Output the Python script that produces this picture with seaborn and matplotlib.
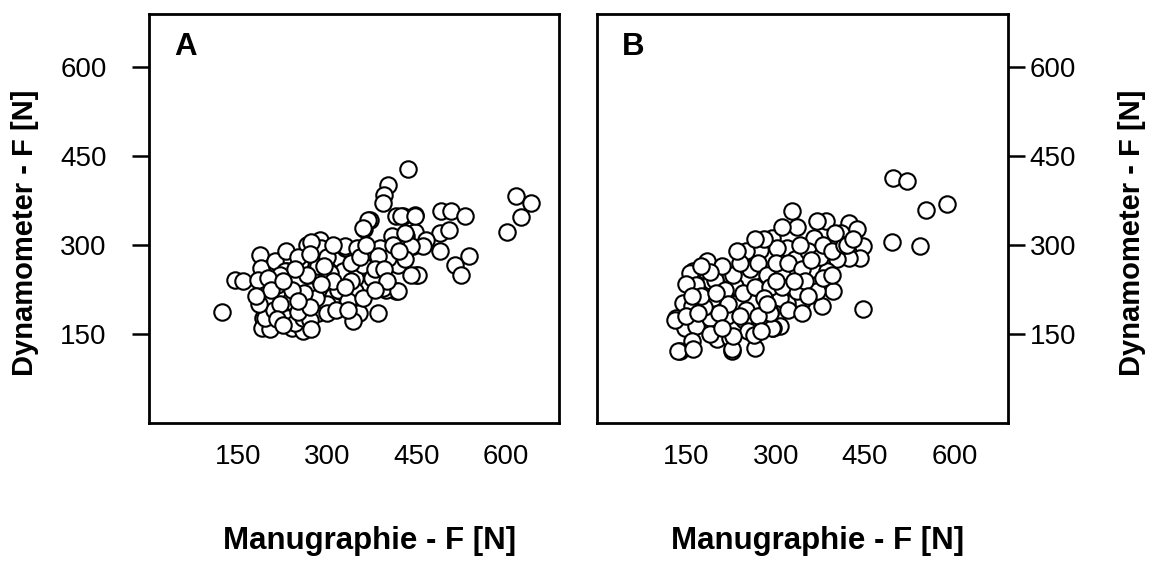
import numpy as np
import pandas as pd
import matplotlib
matplotlib.use("Agg")
import matplotlib.pyplot as plt
import seaborn as sns

# ---------------- data ----------------
a_x = [123, 145, 158, 187, 188, 184, 192, 195, 190, 204, 215, 226, 215, 232, 237, 232, 240, 259, 251, 254,
       254, 268, 287, 290, 287, 273, 285, 307, 321, 318, 329, 310,
       435, 402, 396, 393, 427, 448, 491, 508, 532, 371, 361, 489, 505, 617, 642, 625, 603, 489,
       539, 514, 525, 449, 444, 408, 385, 405, 419, 416, 399, 385, 354, 343, 332, 326, 357, 346,
       321, 447, 466, 433, 416, 452, 461,
       198, 195, 246, 259, 271, 271, 251, 212, 229, 265, 251,
       368, 360, 424, 447, 441, 388, 273, 329, 349, 360, 304, 285, 318, 346, 394, 419, 441, 402,
       430, 385, 273,
       300, 310, 340, 335, 360, 375, 380, 300, 280, 260, 240, 220, 200, 205, 230, 250, 270, 295,
       310, 340, 355, 365, 395, 410, 420, 430, 400, 380, 330, 290, 265, 245, 225, 210, 220, 185,
       180, 300, 315, 335, 270, 250, 215, 225]
a_y = [188, 242, 239, 283, 262, 242, 177, 166, 160, 158, 264, 276, 233, 256, 205, 177, 160, 155, 174, 239,
       270, 301, 309, 295, 264, 225, 186, 253, 276, 222, 295, 214,
       428, 402, 385, 371, 349, 351, 357, 357, 349, 343, 327, 321, 326, 383, 371, 347, 323, 290,
       281, 267, 250, 250, 298, 315, 292, 278, 267, 222, 225, 186, 186, 172, 295, 256, 267, 245,
       222, 323, 309, 315, 349, 250, 298,
       205, 177, 169, 177, 222, 174, 188, 273, 256, 301, 239,
       343, 329, 349, 349, 298, 295, 306, 298, 295, 267, 253, 264, 225, 222, 228, 222, 250, 278,
       276, 281, 158,
       280, 240, 240, 205, 210, 245, 260, 200, 210, 220, 225, 250, 245, 225, 290, 280, 285, 265,
       300, 270, 280, 300, 260, 300, 290, 320, 240, 225, 230, 235, 250, 260, 240, 190, 200, 200,
       215, 185, 190, 190, 195, 205, 175, 165]

b_x = [497, 520, 553, 587, 495, 542, 447, 327, 336, 385, 423, 437, 364, 400, 447, 442, 423, 403, 319, 333,
       364, 386, 324, 367, 338, 397, 378, 344, 319, 308,
       294, 251, 274, 257, 279, 308, 336, 369, 260, 291, 246, 296,
       184, 161, 170, 192, 223, 249, 232, 195, 159, 133, 147, 167, 190, 218, 229, 159, 139, 201,
       223, 226, 254,
       136, 161, 131, 156, 167, 145, 159, 226, 265, 263, 294, 229, 235, 260, 291, 229, 198, 251,
       302, 310,
       270, 285, 300, 240, 215, 245, 265, 290, 310, 320, 345, 355, 350, 375, 380, 395, 410, 415,
       340, 300, 280, 250, 220, 205, 180, 175, 150, 170, 190, 210, 240, 270, 285, 320, 355, 380,
       395, 420, 430, 400, 370, 310, 280, 265, 235, 210, 190, 175, 150, 160, 200, 330, 360, 275,
       345]
b_y = [414, 408, 360, 369, 306, 298, 193, 357, 331, 340, 337, 327, 312, 301, 298, 278, 278, 276, 295, 276,
       256, 256, 250, 233, 222, 222, 197, 205, 203, 163,
       312, 287, 292, 259, 233, 211, 222, 222, 205, 188, 174, 160,
       273, 256, 232, 239, 250, 287, 231, 211, 194, 177, 160, 163, 177, 180, 203, 138, 121, 141,
       144, 121, 155,
       121, 125, 174, 253, 233, 203, 197, 124, 127, 149, 160, 146, 203, 203, 186, 250, 242, 290,
       295, 250,
       270, 250, 270, 270, 225, 220, 230, 230, 230, 270, 260, 290, 240, 280, 300, 290, 320, 300,
       300, 240, 210, 190, 200, 185, 195, 215, 180, 185, 150, 160, 180, 180, 200, 190, 215, 245,
       250, 300, 310, 320, 340, 330, 310, 310, 290, 265, 255, 265, 235, 215, 220, 240, 275, 155,
       185]

ticks = [150, 300, 450, 600]
tick_labels = ["150", "300", "450", "600"]
panel_labels = ["A", "B"]
x_label = "Manugraphie - F [N]"
y_label = "Dynamometer - F [N]"

# ---------------- figure ----------------
sns.set_style("white")
plt.rcParams['font.family'] = ['Liberation Sans', 'DejaVu Sans']
plt.rcParams['text.color'] = 'black'
plt.rcParams['axes.labelcolor'] = 'black'
plt.rcParams['xtick.color'] = 'black'
plt.rcParams['ytick.color'] = 'black'

TICK_FS = 20
LAB_FS = 22.5
YLAB_FS = 21

fig = plt.figure(figsize=(11.56, 5.63), dpi=100)
ax1 = fig.add_axes([0.129, 0.2487, 0.3547, 0.7265])
ax2 = fig.add_axes([0.5164, 0.2487, 0.3556, 0.7265])

dfa = pd.DataFrame({"x": a_x, "y": a_y})
dfb = pd.DataFrame({"x": b_x, "y": b_y})

for ax, df, lab in [(ax1, dfa, panel_labels[0]), (ax2, dfb, panel_labels[1])]:
    sns.scatterplot(data=df, x="x", y="y", ax=ax, s=140, facecolor="white",
                    edgecolor="black", linewidth=1.5, zorder=3)
    ax.set_xlim(0, 690)
    ax.set_ylim(0, 690)
    ax.set_xticks(ticks)
    ax.set_xticklabels(tick_labels)
    ax.set_yticks(ticks)
    ax.set_yticklabels(tick_labels)
    for sp in ax.spines.values():
        sp.set_visible(True)
        sp.set_linewidth(2.0)
        sp.set_color("black")
    ax.tick_params(axis="both", direction="out", length=12, width=1.8, color="black",
                   labelsize=TICK_FS, labelcolor="black")
    ax.tick_params(axis="x", pad=3)
    ax.set_xlabel(x_label, fontsize=LAB_FS, fontweight="bold", color="black")
    ax.xaxis.set_label_coords(0.537, -0.252)
    ax.text(0.088, 0.919, lab, transform=ax.transAxes, fontsize=LAB_FS, fontweight="bold",
            ha="center", va="center", color="black")

ax1.tick_params(axis="y", left=True, right=False, labelleft=True, labelright=False, pad=18.5)
ax1.set_ylabel(y_label, fontsize=YLAB_FS, fontweight="bold", color="black")
ax1.yaxis.set_label_coords(-0.268, 0.465)
ax2.tick_params(axis="y", left=False, right=True, labelleft=False, labelright=True, pad=3.5)
ax2.yaxis.set_label_position("right")
ax2.set_ylabel(y_label, fontsize=YLAB_FS, fontweight="bold", rotation=90, color="black")
ax2.yaxis.set_label_coords(1.268, 0.465)

fig.savefig("out.png", dpi=100)
